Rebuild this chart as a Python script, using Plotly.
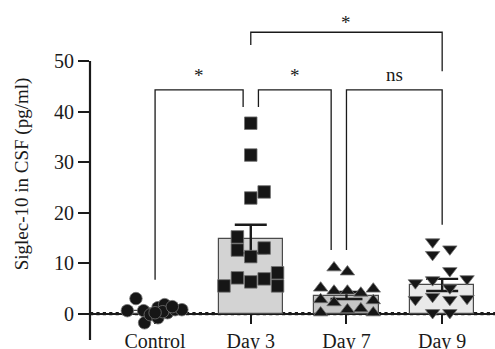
import plotly.graph_objects as go

# Groups and per-animal Siglec-10 levels in CSF (pg/ml)
categories = ["Control", "Day 3", "Day 7", "Day 9"]

control_vals = [3.0, 0.6, 0.6, -1.8, -0.2, 1.2, 1.8, -0.8, 0.2, 0.8, 0.8, 0.4, 0.2, 1.4]
control_jitter = [-0.20, -0.29, -0.12, -0.11, -0.05, 0.03, 0.10, 0.03, 0.13, 0.21, 0.28, 0.08, 0.0, 0.18]

day3_vals = [37.7, 31.4, 22.9, 24.1, 15.2, 12.6, 11.3, 13.0, 5.5, 7.1, 6.3, 6.9, 8.1, 5.5]
day3_jitter = [0.0, 0.0, 0.0, 0.14, -0.14, -0.14, 0.0, 0.14, -0.28, -0.14, 0.0, 0.14, 0.28, 0.28]

day7_vals = [9.1, 8.3, 5.1, 4.5, 4.5, 4.1, 4.9, 2.8, 2.2, 2.6, 0.2, 0.8, 1.0, 0.2]
day7_jitter = [-0.13, 0.01, -0.27, -0.13, 0.01, 0.15, 0.28, -0.27, -0.13, 0.28, -0.27, 0.01, 0.15, 0.28]

day9_vals = [14.2, 12.8, 11.7, 8.5, 6.1, 6.7, 6.9, 5.1, 2.8, 3.4, 2.8, 3.0, 0.2, 0.2]
day9_jitter = [-0.10, 0.08, -0.10, 0.08, -0.28, -0.10, 0.26, 0.08, -0.28, -0.10, 0.08, 0.26, -0.10, 0.08]

# Group mean and SEM
group_means = [0.6, 14.8, 3.6, 5.7]
group_sem = [0.4, 2.8, 0.7, 1.2]

# Pairwise comparisons: (left x, right x, bar height, left leg end, right leg end, label, label x)
comparisons = [
    (0.0, 0.92, 44.3, 6.7, 40.9, "*", 0.46),
    (1.08, 1.84, 44.3, 40.9, 12.6, "*", 1.46),
    (2.0, 3.0, 44.3, 12.6, 17.6, "ns", 2.5),
    (1.0, 3.0, 55.7, 53.2, 48.0, "*", 2.0),
]

FONT = "Liberation Serif"
INK = "#1a1a1a"
y_lo, y_hi = -5.2, 60.5
x_lo, x_hi = -0.68, 3.552

fig = go.Figure()

fig.add_trace(go.Bar(
    x=[0, 1, 2, 3], y=group_means, width=0.67,
    marker=dict(color=["#ffffff", "#d3d3d3", "#c6c6c6", "#e9e9e9"],
                line=dict(color="#4a4a4a", width=1.2)),
    error_y=dict(type="data", array=group_sem, visible=True,
                 color=INK, thickness=2.4, width=16),
    showlegend=False,
))

groups = [
    (control_vals, control_jitter, 0, "circle", 12.5),
    (day3_vals, day3_jitter, 1, "square", 12.5),
    (day7_vals, day7_jitter, 2, "triangle-up", 12.5),
    (day9_vals, day9_jitter, 3, "triangle-down", 12.5),
]
for vals, jit, pos, sym, sz in groups:
    fig.add_trace(go.Scatter(
        x=[pos + j for j in jit], y=vals, mode="markers",
        marker=dict(symbol=sym, size=sz, color="#161616",
                    line=dict(color="#707070", width=0.8)),
        cliponaxis=False, showlegend=False,
    ))

shapes = []
# dotted reference line at zero
shapes.append(dict(type="line", xref="paper", yref="y", x0=0, x1=1, y0=0, y1=0,
                   line=dict(color=INK, width=3.2, dash="dot"), layer="below"))
# y axis line from bottom of the range up to the 50 tick
shapes.append(dict(type="line", xref="paper", yref="y", x0=0, x1=0, y0=y_lo, y1=50,
                   line=dict(color=INK, width=2.2), layer="above"))

annotations = []
for xl, xr, h, yl, yr, lab, lx in comparisons:
    path = f"M {xl},{yl} L {xl},{h} L {xr},{h} L {xr},{yr}"
    shapes.append(dict(type="path", xref="x", yref="y", path=path,
                       line=dict(color=INK, width=1.3)))
    shift = 3 if lab == "ns" else (-3 if h > 50 else 2)
    annotations.append(dict(x=lx, y=h, xref="x", yref="y", text=lab,
                            showarrow=False, yanchor="bottom", yshift=shift,
                            font=dict(family=FONT, size=19, color=INK)))

fig.update_layout(
    width=495, height=349,
    margin=dict(l=90, r=0, t=8, b=9, autoexpand=False),
    plot_bgcolor="white", paper_bgcolor="white",
    shapes=shapes, annotations=annotations,
    bargap=0,
    xaxis=dict(
        range=[x_lo, x_hi], tickvals=[0, 1, 2, 3], ticktext=categories,
        showline=True, linecolor=INK, linewidth=2,
        ticks="outside", ticklen=9, tickwidth=2, tickcolor=INK,
        anchor="free", position=(0 - y_lo) / (y_hi - y_lo),
        showgrid=False, zeroline=False, layer="below traces", automargin=False,
        tickfont=dict(family=FONT, size=20, color=INK),
    ),
    yaxis=dict(
        range=[y_lo, y_hi], tickvals=[0, 10, 20, 30, 40, 50],
        showline=False, ticks="outside", ticklen=11, tickwidth=2, tickcolor=INK,
        showgrid=False, zeroline=False, automargin=False,
        tickfont=dict(family=FONT, size=20, color=INK),
        title=dict(text="Siglec-10 in CSF (pg/ml)", standoff=20,
                   font=dict(family=FONT, size=19, color=INK)),
    ),
)

fig.write_html("out.html")
